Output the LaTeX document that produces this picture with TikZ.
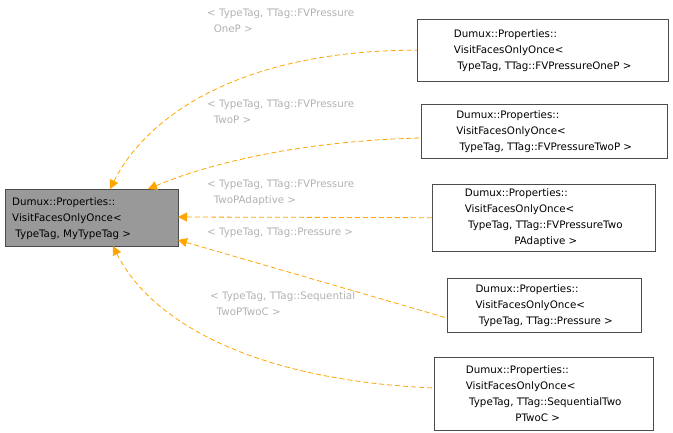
\documentclass[tikz,border=0pt]{standalone}
\usepackage{fontspec}
\setmainfont{DejaVu Sans}
\usetikzlibrary{arrows.meta}
\definecolor{edgeorange}{HTML}{FFA500}
\begin{document}
\begin{tikzpicture}[x=1pt,y=-1pt,
    every node/.style={font=\fontsize{10.3}{16}\selectfont},
    cls/.style={draw=black!70, fill=white, align=left, inner sep=0pt, anchor=north west},
    inh/.style={draw=edgeorange, line width=0.8pt, dash pattern=on 5pt off 3pt, {Triangle[fill=edgeorange,length=9pt,width=9pt]}-},
    lbl/.style={text=black!30, align=left, anchor=north west, inner sep=0pt}
]
\useasboundingbox (0,0) rectangle (673,432);

% Nodes
\node[cls, fill=black!40, minimum width=173pt, minimum height=57pt] (main) at (5,189) {};
\node[anchor=west, align=left, inner sep=0pt] at (12,219) {Dumux::Properties::\\VisitFacesOnlyOnce<\\\ TypeTag, MyTypeTag >};

\node[cls, minimum width=251pt, minimum height=62pt] (b1) at (417,19) {};
\node[align=left] at (b1) {Dumux::Properties::\\VisitFacesOnlyOnce<\\\ TypeTag, TTag::FVPressureOneP >};
\node[cls, minimum width=246pt, minimum height=54pt] (b2) at (421,104) {};
\node[align=left] at (b2) {Dumux::Properties::\\VisitFacesOnlyOnce<\\\ TypeTag, TTag::FVPressureTwoP >};
\node[cls, minimum width=223pt, minimum height=67pt] (b3) at (432,184) {};
\node[align=left] at (b3) {Dumux::Properties::\\VisitFacesOnlyOnce<\\\ TypeTag, TTag::FVPressureTwo\\\hspace*{4.8em}PAdaptive >};
\node[cls, minimum width=194pt, minimum height=54pt] (b4) at (447,278) {};
\node[align=left] at (b4) {Dumux::Properties::\\VisitFacesOnlyOnce<\\\ TypeTag, TTag::Pressure >};
\node[cls, minimum width=219pt, minimum height=73pt] (b5) at (434,357) {};
\node[align=left] at (b5) {Dumux::Properties::\\VisitFacesOnlyOnce<\\\ TypeTag, TTag::SequentialTwo\\\hspace*{4.8em}PTwoC >};

% Connections
\coordinate (m1) at (110,189);
\coordinate (m2) at (148,189);
\coordinate (m3) at (178,217);
\coordinate (m4) at (178,240);
\coordinate (m5) at (113,246);
\draw[inh] (m1) .. controls (150,110) and (250,50) .. (b1.west);
\draw[inh] (m2) .. controls (230,155) and (330,140) .. (421,138);
\draw[inh] (m3) -- (b3.west);
\draw[inh] (m4) -- (447,318);
\draw[inh] (m5) .. controls (150,320) and (250,380) .. (434,388);

\node[lbl] at (207,9) {< TypeTag, TTag::FVPressure\\\ \ OneP >};
\node[lbl] at (207,100) {< TypeTag, TTag::FVPressure\\\ \ TwoP >};
\node[lbl] at (207,180) {< TypeTag, TTag::FVPressure\\\ \ TwoPAdaptive >};
\node[lbl] at (207,228) {< TypeTag, TTag::Pressure >};
\node[lbl] at (210,291) {< TypeTag, TTag::Sequential\\\ \ TwoPTwoC >};
\end{tikzpicture}
\end{document}
